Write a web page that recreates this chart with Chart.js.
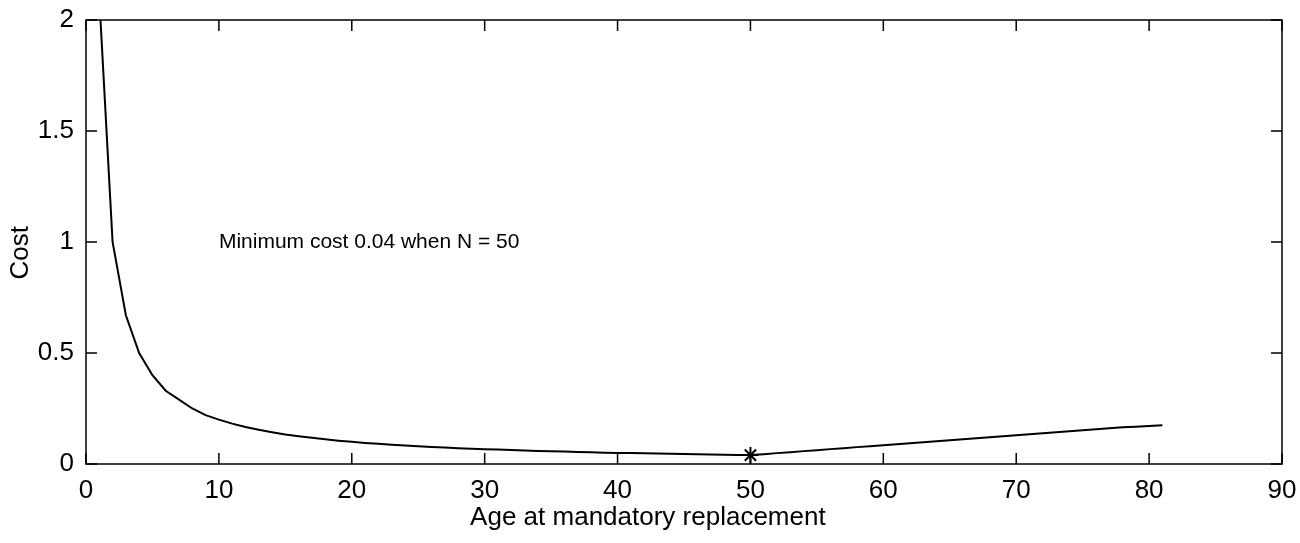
<!DOCTYPE html>
<html>
<head>
<meta charset="utf-8">
<script src="https://cdn.jsdelivr.net/npm/chart.js@4.4.0/dist/chart.umd.min.js"></script>
<style>
  html, body { margin: 0; padding: 0; background: #fff; }
  #wrap { width: 1300px; height: 543px; position: relative; }
</style>
</head>
<body>
<div id="wrap"><canvas id="myChart" width="1300" height="543"></canvas></div>
<script>
// data ----------------------------------------------------------
const ages = [];
for (let n = 1; n <= 81; n++) ages.push(n);

const costs = [
  2.10, 1.00, 0.67, 0.50, 0.40, 0.33, 0.29, 0.25, 0.22, 0.20,
  0.182, 0.167, 0.154, 0.143, 0.133, 0.125, 0.118, 0.111, 0.105, 0.100,
  0.095, 0.091, 0.087, 0.083, 0.080, 0.077, 0.074, 0.071, 0.069, 0.067,
  0.065, 0.063, 0.061, 0.059, 0.057, 0.056, 0.054, 0.053, 0.051, 0.050,
  0.049, 0.048, 0.047, 0.046, 0.045, 0.044, 0.043, 0.042, 0.041, 0.040,
  0.044, 0.049, 0.053, 0.058, 0.062, 0.067, 0.071, 0.076, 0.080, 0.085,
  0.089, 0.094, 0.098, 0.103, 0.107, 0.112, 0.116, 0.121, 0.125, 0.130,
  0.134, 0.139, 0.143, 0.148, 0.152, 0.157, 0.161, 0.165, 0.168, 0.171,
  0.174
];

const minAge = [50];
const minCost = [0.04];

const xTicks = [0, 10, 20, 30, 40, 50, 60, 70, 80, 90];
const yTicks = [0, 0.5, 1, 1.5, 2];

const noteText = "Minimum cost 0.04 when N = 50";
const notePos = [10, 1];

// plugin: box + inward ticks + note ------------------------------
const matlabBox = {
  id: "matlabBox",
  afterDatasetsDraw(chart) {
    const ctx = chart.ctx;
    const a = chart.chartArea;
    const xs = chart.scales.x;
    const ys = chart.scales.y;
    ctx.save();
    ctx.strokeStyle = "#000";
    ctx.lineWidth = 1.5;
    ctx.strokeRect(a.left, a.top, a.right - a.left, a.bottom - a.top);
    const len = 11;
    ctx.beginPath();
    xTicks.forEach((v) => {
      const px = xs.getPixelForValue(v);
      ctx.moveTo(px, a.bottom);
      ctx.lineTo(px, a.bottom - len);
      ctx.moveTo(px, a.top);
      ctx.lineTo(px, a.top + len);
    });
    yTicks.forEach((v) => {
      const py = ys.getPixelForValue(v);
      ctx.moveTo(a.left, py);
      ctx.lineTo(a.left + len, py);
      ctx.moveTo(a.right, py);
      ctx.lineTo(a.right - len, py);
    });
    ctx.stroke();

    ctx.fillStyle = "#000";
    ctx.font = "21px 'Liberation Sans', Arial, sans-serif";
    ctx.textAlign = "left";
    ctx.textBaseline = "middle";
    ctx.fillText(noteText, xs.getPixelForValue(notePos[0]), ys.getPixelForValue(notePos[1]));
    ctx.restore();
  },
};

const family = "'Liberation Sans', Arial, sans-serif";

const ctx = document.getElementById("myChart").getContext("2d");
const myChart = new Chart(ctx, {
  type: "scatter",
  data: {
    datasets: [
      {
        data: ages.map((a, i) => ({ x: a, y: costs[i] })),
        showLine: true,
        borderColor: "#000",
        borderWidth: 2,
        pointRadius: 0,
        tension: 0,
      },
      {
        data: minAge.map((a, i) => ({ x: a, y: minCost[i] })),
        showLine: false,
        pointStyle: "star",
        pointRadius: 8,
        borderColor: "#000",
        borderWidth: 2,
        clip: false,
      },
    ],
  },
  options: {
    responsive: false,
    animation: false,
    layout: { padding: { top: 20, right: 18, left: 0, bottom: 0 } },
    plugins: { legend: { display: false }, tooltip: { enabled: false } },
    scales: {
      x: {
        type: "linear",
        min: 0,
        max: 90,
        afterBuildTicks: (s) => { s.ticks = xTicks.map((v) => ({ value: v })); },
        ticks: { color: "#000", font: { family: family, size: 26 }, padding: 3, maxRotation: 0,
          callback: (v) => String(v) },
        grid: { display: false },
        border: { display: false },
        title: {
          display: true,
          // trailing spaces nudge the centred label left, as in the original
          text: "Age at mandatory replacement" + " ".repeat(10),
          color: "#000",
          font: { family: family, size: 26 },
          padding: { top: 0, bottom: 10 },
        },
        afterFit: (s) => { s.height = 79; },
      },
      y: {
        type: "linear",
        min: 0,
        max: 2,
        afterBuildTicks: (s) => { s.ticks = yTicks.map((v) => ({ value: v })); },
        ticks: { color: "#000", font: { family: family, size: 26 }, padding: 4,
          callback: (v) => String(v) },
        grid: { display: false },
        border: { display: false },
        title: {
          display: true,
          text: "Cost" + " ".repeat(3),
          color: "#000",
          font: { family: family, size: 26 },
          padding: { top: 5, bottom: 0 },
        },
        afterFit: (s) => { s.width = 86; },
      },
    },
  },
  plugins: [matlabBox],
});
</script>
</body>
</html>
